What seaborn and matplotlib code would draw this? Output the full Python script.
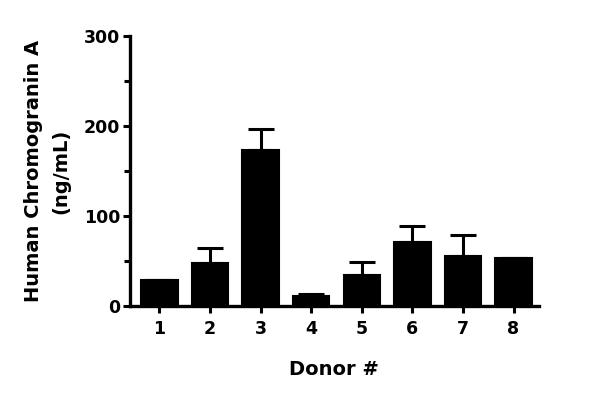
import matplotlib
matplotlib.use("Agg")
import matplotlib.pyplot as plt
import seaborn as sns
import numpy as np
import pandas as pd

donors = ["1", "2", "3", "4", "5", "6", "7", "8"]
means = [29, 48, 173, 11, 35, 71, 56, 53]
upper_err = [0, 17, 24, 2, 14, 18, 23, 0]
y_ticks = [0, 100, 200, 300]
x_label = "Donor #"
y_label = "Human Chromogranin A\n(ng/mL)"

sns.set_theme(style="ticks")
plt.rcParams['font.family'] = ['DejaVu Sans']
plt.rcParams['font.weight'] = 'bold'

df = pd.DataFrame({"donor": donors, "value": means})

fig = plt.figure(figsize=(6, 3.98), dpi=100)
ax = fig.add_axes([0.2167, 0.231, 0.898 - 0.2167, 0.9095 - 0.231])

sns.barplot(data=df, x="donor", y="value", color="black", saturation=1,
            width=0.72, errorbar=None, ax=ax, zorder=3)
for p in ax.patches:
    p.set_edgecolor("black")
    p.set_linewidth(1.5)

xpos = np.arange(len(donors))
yerr = np.vstack([np.zeros(len(means)), upper_err])
ax.errorbar(xpos, means, yerr=yerr, fmt="none", ecolor="black",
            elinewidth=2.2, capsize=9.5, capthick=2.2, zorder=2)

ax.set_xlim(-0.58, 7.5)
ax.set_ylim(0, 300)
ax.set_yticks(y_ticks)
ax.set_yticks([50, 150, 250], minor=True)
ax.tick_params(axis="both", which="major", direction="out", length=5, width=2.2,
               labelsize=12.5, color="black", labelcolor="black", pad=2)
ax.tick_params(axis="x", which="major", pad=5)
ax.tick_params(axis="y", which="minor", direction="out", length=4, width=2.2, color="black")
for lbl in ax.get_xticklabels() + ax.get_yticklabels():
    lbl.set_fontweight("bold")

for s in ["top", "right"]:
    ax.spines[s].set_visible(False)
for s in ["left", "bottom"]:
    ax.spines[s].set_linewidth(2.4)
    ax.spines[s].set_color("black")

ax.set_xlabel(x_label, fontsize=14, fontweight="bold", labelpad=16, color="black")
ax.set_ylabel(y_label, fontsize=14, fontweight="bold", labelpad=10, color="black",
              linespacing=1.55)

fig.savefig("out.png", dpi=100)
